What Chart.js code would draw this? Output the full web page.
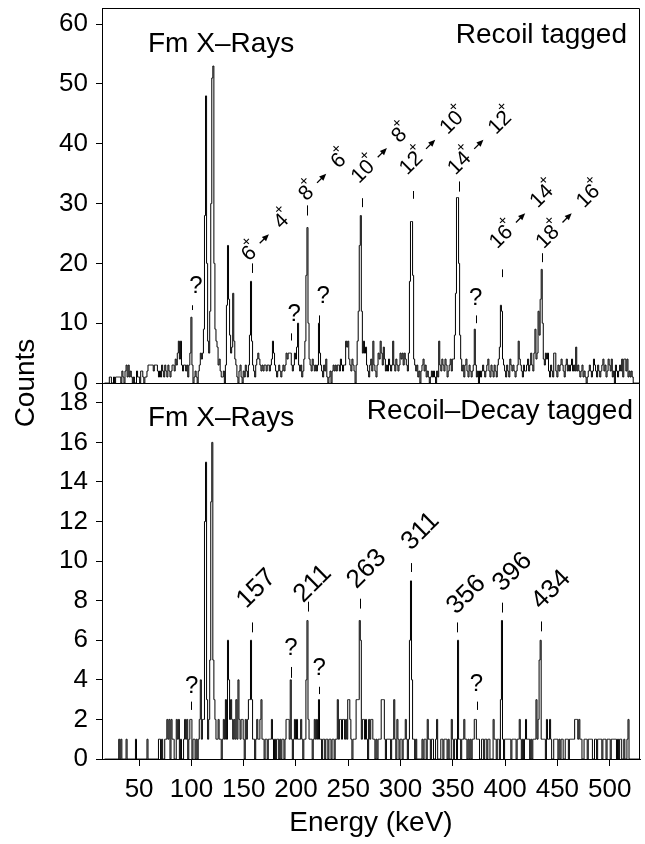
<!DOCTYPE html>
<html>
<head>
<meta charset="utf-8">
<script src="https://cdn.jsdelivr.net/npm/chart.js@4.4.1/dist/chart.umd.min.js"></script>
<style>
  html, body { margin: 0; padding: 0; background: #fff; }
  #wrap { position: relative; width: 645px; height: 844px; overflow: hidden; }
  #wrap > div { position: absolute; left: 0; width: 645px; }
  #topBox { top: 0; height: 440px; z-index: 2; }
  #bottomBox { top: 383px; height: 461px; z-index: 1; }
</style>
</head>
<body>
<div id="wrap">
  <div id="bottomBox"><canvas id="bottomChart"></canvas></div>
  <div id="topBox"><canvas id="topChart"></canvas></div>
</div>
<script>
// Energy of the first 1 keV bin (bin centre, keV)
const firstBin = 18;

// Recoil tagged spectrum, counts per 1 keV bin from 18 keV
const recoilCounts = [
  0,0,
  0,0,1,1,0,0,1,0,1,1,  1,1,1,0,2,1,0,2,3,1,
  3,1,2,1,0,1,0,0,2,1,  1,0,2,2,1,0,1,1,2,3,
  3,3,3,3,2,3,3,3,2,1,  2,1,3,2,1,3,2,1,3,2,
  1,2,3,3,2,4,3,5,7,4,  7,3,2,3,3,2,3,1,3,5,
  11,3,0,1,2,1,0,2,3,5, 4,5,9,28,48,20,7,5,12,30,
  51,53,20,9,7,6,3,4,2,1, 1,2,0,3,13,23,14,8,5,6,
  15,7,4,3,1,0,2,3,1,0, 2,1,3,2,1,3,8,17,7,3,
  2,1,3,4,5,4,3,2,3,2,  3,3,2,3,3,2,3,4,7,5,
  3,2,1,2,3,2,1,2,3,2,  3,5,4,5,5,5,3,2,3,5,
  4,6,10,3,2,3,1,2,4,7, 18,26,10,4,3,2,4,3,2,3,
  2,3,10,5,3,2,1,3,2,4, 1,0,1,2,0,2,3,2,3,2,
  3,3,2,4,3,2,3,3,7,6,  7,4,3,2,4,3,2,0,3,7,
  12,23,28,12,5,7,5,6,3,2, 1,3,4,2,7,3,2,1,3,5,
  4,7,5,3,6,4,2,3,2,4,  3,2,3,7,3,2,4,3,2,3,
  5,4,5,3,5,4,3,2,5,17, 27,27,18,4,3,2,3,1,2,0,
  2,3,4,2,3,1,2,1,0,1,  2,1,2,1,0,2,1,7,3,2,
  4,3,2,4,3,1,2,3,4,2,  4,4,8,15,31,31,20,8,4,2,
  3,1,3,4,2,1,3,2,1,2,  3,9,3,1,2,0,2,1,2,3,
  2,1,2,3,4,2,1,3,2,1,  3,2,1,3,4,6,13,12,4,3,
  2,1,3,2,1,4,3,2,3,2,  1,2,3,7,4,3,2,1,3,2,
  2,3,4,2,3,5,3,2,5,9,  4,5,12,8,14,19,10,4,3,5,
  4,5,2,1,3,2,1,5,5,2,  1,3,2,3,4,3,2,1,3,4,
  2,3,2,3,4,2,3,2,6,2,  3,2,1,2,3,1,2,1,0,1,
  2,3,2,1,2,4,3,2,1,3,  2,1,2,3,4,2,3,1,2,4,
  3,2,4,1,2,0,3,2,1,2,  3,2,4,1,4,4,2,4,1,2,
  1,2,1,0,0,0,0,0,0,0
];

// Recoil-decay tagged spectrum, counts per 1 keV bin from 18 keV
const decayCounts = [
  0,0,
  0,0,0,0,0,0,0,0,0,0,  0,1,0,1,0,0,0,0,1,0,
  0,0,0,0,0,0,0,1,0,0,  0,0,0,0,0,0,0,0,1,0,
  0,0,0,0,0,0,0,0,0,1,  1,0,1,0,0,1,1,2,1,2,
  0,2,1,1,0,0,2,1,2,0,  1,0,0,1,2,1,2,0,1,2,
  2,0,1,1,0,1,0,1,2,4,  1,2,2,12,15,3,1,2,5,13,
  16,5,3,2,1,1,2,1,1,0, 1,2,1,3,1,6,4,2,3,2,
  1,2,1,3,1,4,2,1,2,2,  1,0,2,1,2,3,3,6,3,1,
  1,0,1,2,1,1,2,3,1,1,  0,1,1,0,1,1,1,2,1,0,
  1,0,1,1,0,1,0,1,1,0,  1,2,2,2,1,4,1,0,1,2,
  1,2,1,1,1,2,1,0,1,1,  4,7,2,1,1,1,0,1,2,1,
  2,1,3,1,1,0,1,1,0,1,  1,0,1,1,0,1,1,0,1,1,
  3,1,2,2,1,2,2,1,2,1,  3,3,2,1,0,1,1,1,3,3,
  3,7,6,1,2,2,1,2,1,0,  2,1,2,2,1,1,0,1,0,1,
  1,1,3,3,3,1,0,1,1,1,  1,0,1,1,3,1,0,2,1,0,
  1,1,0,1,1,2,1,0,1,6,  9,4,1,1,0,1,0,0,0,0,
  0,1,0,1,1,0,2,1,1,0,  1,1,0,0,1,2,0,0,0,1,
  1,0,1,1,1,0,1,0,0,2,  1,0,1,1,0,6,1,1,0,1,
  1,2,1,1,0,1,0,1,0,1,  1,2,2,1,1,1,0,0,1,1,
  0,1,1,0,1,1,0,0,0,2,  1,1,0,1,1,0,3,7,1,0,
  1,1,1,1,1,1,0,1,1,1,  1,0,1,1,2,1,0,1,0,1,
  2,1,1,1,0,1,0,1,1,1,  3,1,2,5,6,1,1,1,1,0,
  2,1,1,2,1,0,0,1,1,1,  1,0,1,0,1,1,0,0,1,1,
  1,0,1,1,1,1,1,2,2,2,  1,2,1,1,0,0,1,1,1,0,
  1,1,1,1,0,0,1,1,0,1,  1,1,1,0,1,1,1,0,1,1,
  1,0,1,1,1,1,1,0,1,0,  1,1,0,0,1,0,0,1,2,0,
  0,0,0,0,0,0,0,0,0,0
];

const energyTicks = [50, 100, 150, 200, 250, 300, 350, 400, 450, 500];
const recoilTicks = [0, 10, 20, 30, 40, 50, 60];
const decayTicks = [0, 2, 4, 6, 8, 10, 12, 14, 16, 18];

// Band transitions marked in the recoil tagged panel
const bandEnergies = [157, 211, 263, 311, 356, 396, 434];
const bandFrom = ['6', '8', '10', '12', '14', '16', '18'];
const bandTo = ['4', '6', '8', '10', '12', '14', '16'];
// Lines labelled in the recoil-decay tagged panel
const decayLines = ['157', '211', '263', '311', '356', '396', '434'];
// Unassigned lines ("?")
const unknownRecoil = [101, 195, 222, 372];
const unknownDecay = [100, 195, 222, 373];

// ---- annotation layout (keV, counts) ----
const recoilBandMarks = [[157.5, 18.4, 20.0], [210.1, 28.0, 29.7], [263.6, 29.4, 30.9], [311.9, 30.8, 32.1], [356.1, 32.0, 33.7], [397.0, 17.7, 19.0], [435.6, 20.2, 21.7]];
const recoilBandSpots = [[155.3, 21.6], [210.1, 31.7], [264.2, 35.3], [310.4, 36.7], [356.5, 36.7], [396.4, 24.4], [440.9, 24.4]];
const recoilQMarks = [[12.2, 13.0], [7.1, 8.3], [10.0, 11.3], [10.0, 11.3]];
const recoilQSpots = [[104.3, 16.1], [198.2, 11.5], [226.0, 14.5], [371.8, 14.1]];
const decayLineMarks = [[157.5, 6.4, 6.9], [211.6, 7.45, 7.95], [261.0, 7.6, 8.1], [309.7, 9.45, 9.9], [354.0, 6.4, 6.9], [397.0, 7.4, 7.9], [434.2, 6.45, 6.95]];
const decayLineSpots = [[162.3, 8.6], [216.1, 8.85], [267.7, 9.6], [319.1, 11.5], [363.0, 8.3], [407.2, 9.45], [444.2, 8.55]];
const decayQMarks = [[2.48, 2.9], [4.1, 4.65], [3.28, 3.65], [2.48, 2.9]];
const decayQSpots = [[100.2, 3.65], [195.1, 5.6], [222.1, 4.6], [372.5, 3.75]];

const FONT = '"Liberation Sans", Arial, Helvetica, sans-serif';
Chart.defaults.font.family = FONT;
Chart.defaults.color = '#000';

function toPoints(counts) {
  const pts = [{x: firstBin - 1, y: 0}];
  counts.forEach((c, i) => pts.push({x: firstBin + i, y: c}));
  pts.push({x: firstBin + counts.length, y: 0});
  return pts;
}

function px(chart, e, c) {
  return [chart.scales.x.getPixelForValue(e), chart.scales.y.getPixelForValue(c)];
}

function drawArrow(ctx, x0, x1) {
  ctx.beginPath();
  ctx.moveTo(x0, 0);
  ctx.lineTo(x1 - 4, 0);
  ctx.lineWidth = 1.3;
  ctx.stroke();
  ctx.beginPath();
  ctx.moveTo(x1, 0);
  ctx.lineTo(x1 - 7, -3);
  ctx.lineTo(x1 - 7, 3);
  ctx.closePath();
  ctx.fill();
}

function drawMark(chart, e, c1, c2) {
  const ctx = chart.ctx;
  const [x, yA] = px(chart, e, c1);
  const yB = chart.scales.y.getPixelForValue(c2);
  ctx.beginPath();
  ctx.moveTo(Math.round(x) + 0.5, yA);
  ctx.lineTo(Math.round(x) + 0.5, yB);
  ctx.lineWidth = 1;
  ctx.stroke();
}

// frame, panel names and peak labels
const tagPlugin = {
  id: 'tags',
  afterDatasetsDraw(chart, args, o) {
    const ctx = chart.ctx;
    const a = chart.chartArea;
    ctx.save();
    ctx.strokeStyle = '#000';
    ctx.fillStyle = '#000';
    ctx.lineWidth = 1;
    const L = Math.round(a.left) + 0.5, R = Math.round(a.right) - 0.5;
    const T = Math.round(a.top) + 0.5, B = Math.round(a.bottom) + 0.5;
    ctx.beginPath();
    ctx.moveTo(L, T); ctx.lineTo(R, T); ctx.lineTo(R, B); ctx.lineTo(L, B);
    ctx.stroke();

    ctx.font = '28px ' + FONT;
    ctx.textBaseline = 'alphabetic';
    ctx.textAlign = 'left';
    ctx.fillText(o.leftName, a.left + 46, a.top + o.nameDrop[0]);
    ctx.textAlign = 'right';
    ctx.fillText(o.rightName, a.right - o.rightInset, a.top + o.nameDrop[1]);

    // question marks
    ctx.font = '24px ' + FONT;
    ctx.textAlign = 'center';
    ctx.textBaseline = 'middle';
    o.qEnergies.forEach((e, i) => {
      drawMark(chart, e, o.qMarks[i][0], o.qMarks[i][1]);
      const [x, y] = px(chart, o.qSpots[i][0], o.qSpots[i][1]);
      ctx.fillText('?', x, y);
    });

    if (o.bands) {
      o.bands.marks.forEach(m => drawMark(chart, m[0], m[1], m[2]));
      o.bands.from.forEach((f, i) => {
        const [x, y] = px(chart, o.bands.spots[i][0], o.bands.spots[i][1]);
        ctx.save();
        ctx.translate(x, y);
        ctx.rotate(-Math.PI / 4);
        ctx.textAlign = 'center';
        ctx.textBaseline = 'middle';
        ctx.font = '21px ' + FONT;
        const w1 = ctx.measureText(f).width;
        ctx.fillText(f, 0, 0);
        ctx.font = '15px ' + FONT;
        ctx.fillText('+', w1 / 2 + 1, -10);
        const ax = w1 / 2 + 16;
        drawArrow(ctx, ax - 7, ax + 6);
        ctx.font = '21px ' + FONT;
        const t = o.bands.to[i];
        const w2 = ctx.measureText(t).width;
        const c2 = ax + 18 + w2 / 2;
        ctx.fillText(t, c2, 0);
        ctx.font = '15px ' + FONT;
        ctx.fillText('+', c2 + w2 / 2 + 1, -10);
        ctx.restore();
      });
    }

    if (o.lines) {
      o.lines.marks.forEach(m => drawMark(chart, m[0], m[1], m[2]));
      o.lines.text.forEach((s, i) => {
        const [x, y] = px(chart, o.lines.spots[i][0], o.lines.spots[i][1]);
        ctx.save();
        ctx.translate(x, y);
        ctx.rotate(-Math.PI / 4);
        ctx.font = '26px ' + FONT;
        ctx.textAlign = 'center';
        ctx.textBaseline = 'middle';
        ctx.fillText(s, 0, 0);
        ctx.restore();
      });
    }

    if (o.yTitle) {
      ctx.save();
      ctx.translate(33.5, a.bottom);
      ctx.rotate(-Math.PI / 2);
      ctx.font = '28px ' + FONT;
      ctx.textAlign = 'center';
      ctx.textBaseline = 'alphabetic';
      ctx.fillText(o.yTitle, 0, 0);
      ctx.restore();
    }
    ctx.restore();
  }
};

function yScale(max, ticks) {
  return {
    min: 0,
    max: max,
    afterFit(s) { s.width = 102; s.paddingTop = 0; s.paddingBottom = 0; },
    afterBuildTicks(s) { s.ticks = ticks.map(v => ({value: v})); },
    ticks: { font: { size: 26 }, color: '#000', padding: 8 },
    grid: { drawOnChartArea: false, tickLength: 6, color: '#000', lineWidth: 1 },
    border: { color: '#000', width: 1 }
  };
}

function dataset(counts) {
  return {
    data: toPoints(counts),
    borderColor: '#000',
    borderWidth: 1,
    pointRadius: 0,
    stepped: 'middle',
    fill: false
  };
}

const common = {
  responsive: true,
  maintainAspectRatio: false,
  animation: false,
  events: []
};

new Chart(document.getElementById('topChart'), {
  type: 'line',
  data: { datasets: [dataset(recoilCounts)] },
  plugins: [tagPlugin],
  options: Object.assign({}, common, {
    layout: { padding: { top: 8, right: 5, bottom: 57, left: 0 } },
    scales: {
      x: { type: 'linear', min: 14.5, max: 529, display: false },
      y: yScale(62.7, recoilTicks)
    },
    plugins: {
      legend: { display: false },
      tooltip: { enabled: false },
      tags: {
        leftName: 'Fm X\u2013Rays',
        rightName: 'Recoil tagged',
        rightInset: 13,
        nameDrop: [44, 35],
        qEnergies: unknownRecoil,
        qMarks: recoilQMarks,
        qSpots: recoilQSpots,
        bands: { marks: recoilBandMarks, spots: recoilBandSpots, from: bandFrom, to: bandTo, energies: bandEnergies },
        yTitle: 'Counts'
      }
    }
  })
});

new Chart(document.getElementById('bottomChart'), {
  type: 'line',
  data: { datasets: [dataset(decayCounts)] },
  plugins: [tagPlugin],
  options: Object.assign({}, common, {
    layout: { padding: { top: 0, right: 5, bottom: 0, left: 0 } },
    scales: {
      x: {
        type: 'linear', min: 14.5, max: 529,
        afterFit(s) { s.height = 85; s.paddingLeft = 0; s.paddingRight = 0; },
        afterBuildTicks(s) { s.ticks = energyTicks.map(v => ({value: v})); },
        ticks: { font: { size: 26 }, color: '#000', padding: 8, maxRotation: 0, autoSkip: false },
        grid: { drawOnChartArea: false, tickLength: 7, color: '#000', lineWidth: 1 },
        border: { color: '#000', width: 1 },
        title: { display: true, text: 'Energy (keV)', font: { size: 28 }, color: '#000', padding: { top: 0, bottom: 4 } }
      },
      y: yScale(19, decayTicks)
    },
    plugins: {
      legend: { display: false },
      tooltip: { enabled: false },
      tags: {
        leftName: 'Fm X\u2013Rays',
        rightName: 'Recoil\u2013Decay tagged',
        rightInset: 7,
        nameDrop: [43, 36],
        qEnergies: unknownDecay,
        qMarks: decayQMarks,
        qSpots: decayQSpots,
        lines: { marks: decayLineMarks, spots: decayLineSpots, text: decayLines }
      }
    }
  })
});
</script>
</body>
</html>
